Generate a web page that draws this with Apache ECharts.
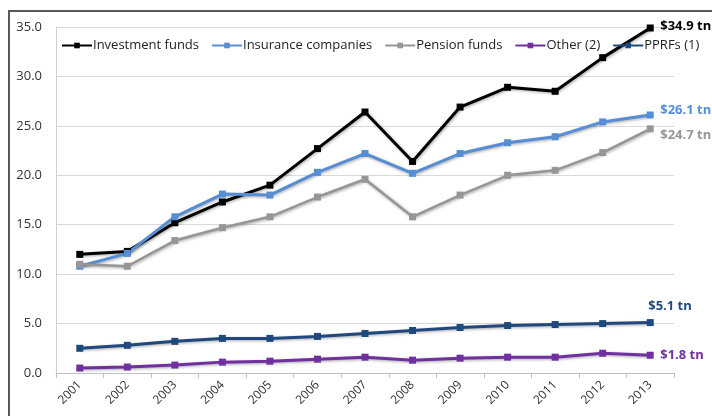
<!DOCTYPE html>
<html>
<head>
<meta charset="utf-8">
<script src="https://cdn.jsdelivr.net/npm/echarts@6/dist/echarts.min.js"></script>
<style>
  html, body { margin: 0; padding: 0; background: #fff; }
  #chart { width: 712px; height: 416px; }
</style>
</head>
<body>
<div id="chart"></div>
<script>
// data, trillions of USD
let years = ['2001','2002','2003','2004','2005','2006','2007','2008','2009','2010','2011','2012','2013'];
let investmentFunds = [12.0, 12.3, 15.2, 17.3, 19.0, 22.7, 26.4, 21.4, 26.9, 28.9, 28.5, 31.9, 34.9];
let insuranceCos    = [10.8, 12.1, 15.8, 18.1, 18.0, 20.3, 22.2, 20.2, 22.2, 23.3, 23.9, 25.4, 26.1];
let pensionFunds    = [11.0, 10.8, 13.4, 14.7, 15.8, 17.8, 19.6, 15.8, 18.0, 20.0, 20.5, 22.3, 24.7];
let other2          = [0.5, 0.6, 0.8, 1.1, 1.2, 1.4, 1.6, 1.3, 1.5, 1.6, 1.6, 2.0, 1.8];
let pprfs1          = [2.5, 2.8, 3.2, 3.5, 3.5, 3.7, 4.0, 4.3, 4.6, 4.8, 4.9, 5.0, 5.1];
let seriesNames = ['Investment funds', 'Insurance companies', 'Pension funds', 'Other (2)', 'PPRFs (1)'];
let endLabels = ['$34.9 tn', '$26.1 tn', '$24.7 tn', '$1.8 tn', '$5.1 tn'];

let colors = ['#000000', '#558ed5', '#969696', '#7030a0', '#1f497d'];
let widths = [3, 3, 2.5, 3, 3];
let labelOffsets = [[2, -2], [2, -5], [2, 6], [2, 0], [-10, -16]];
let values = [investmentFunds, insuranceCos, pensionFunds, other2, pprfs1];

let chart = echarts.init(document.getElementById('chart'));

let series = seriesNames.map(function (name, i) {
  return {
    name: name,
    type: 'line',
    data: values[i],
    symbol: 'rect',
    symbolSize: 7,
    color: colors[i],
    lineStyle: {
      width: widths[i],
      shadowColor: 'rgba(0,0,0,0.35)',
      shadowBlur: 3,
      shadowOffsetX: 1,
      shadowOffsetY: 1
    },
    itemStyle: { color: colors[i] },
    endLabel: {
      show: true,
      formatter: endLabels[i],
      color: colors[i],
      fontFamily: 'Open Sans',
      fontWeight: 'bold',
      fontSize: 13,
      offset: labelOffsets[i]
    },
    emphasis: { disabled: true },
    animation: false
  };
});

let option = {
  animation: false,
  textStyle: { fontFamily: 'Open Sans' },
  graphic: [{
    type: 'rect',
    shape: { x: 9, y: 11, width: 800, height: 500 },
    style: { fill: 'none', stroke: '#595959', lineWidth: 2 },
    z: -1
  }],
  legend: {
    top: 34,
    left: 56,
    itemWidth: 30,
    itemHeight: 7,
    itemGap: 12,
    textStyle: { fontSize: 13, color: '#222', padding: [0, 0, 0, -4] },
    data: seriesNames
  },
  grid: {
    left: 56,
    right: 38,
    top: 27,
    bottom: 43
  },
  xAxis: {
    type: 'category',
    data: years,
    boundaryGap: true,
    axisLine: { lineStyle: { color: '#bfbfbf' } },
    axisTick: { show: true, length: 5, lineStyle: { color: '#bfbfbf' } },
    axisLabel: { rotate: 45, color: '#333', fontSize: 12, margin: 10 }
  },
  yAxis: {
    type: 'value',
    min: 0,
    max: 35,
    interval: 5,
    axisLine: { show: true, lineStyle: { color: '#d0d0d0' } },
    axisTick: { show: false },
    axisLabel: {
      color: '#333',
      fontSize: 13,
      margin: 14,
      formatter: function (v) { return v.toFixed(1); }
    },
    splitLine: { lineStyle: { color: '#d9d9d9' } }
  },
  series: series
};

chart.setOption(option);
</script>
</body>
</html>
